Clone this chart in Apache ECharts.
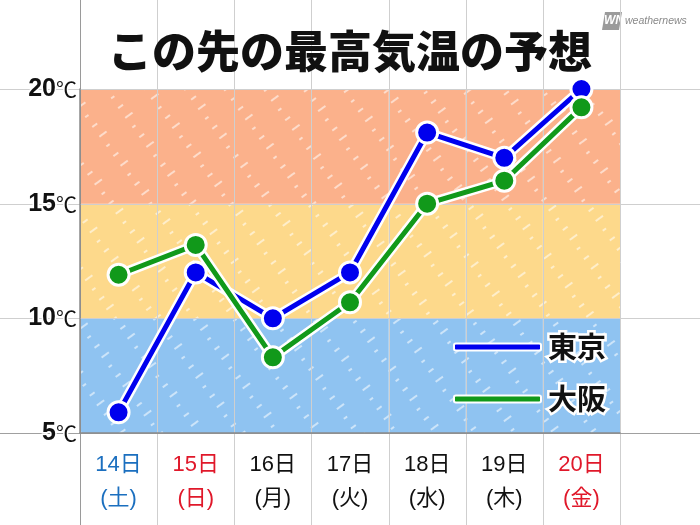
<!DOCTYPE html>
<html>
<head>
<meta charset="utf-8">
<script src="https://cdn.jsdelivr.net/npm/echarts@6/dist/echarts.min.js"></script>
<style>html,body{margin:0;padding:0;background:#fff;}#c{width:700px;height:525px;}</style>
</head>
<body>
<div id="c"></div>
<script>
const categories = ['14日','15日','16日','17日','18日','19日','20日'];
const weekdays = ['(土)','(日)','(月)','(火)','(水)','(木)','(金)'];
const tokyo = [5.9, 12, 10, 12, 18.1, 17, 20];
const osaka = [11.9, 13.2, 8.3, 10.7, 15, 16, 19.2];
const yTicks = [5, 10, 15, 20];
const bands = [[5, 10], [10, 15], [15, 20]];
const seriesNames = ['東京', '大阪'];

const bandColors = ['#8fc3f1', '#fdd98b', '#fbb18b'];
const lineColors = ['#0000ee', '#11991a'];
const dayColorKey = ['b', 'r', 'k', 'k', 'k', 'k', 'r'];
const JP = '"Noto Sans CJK JP", "Liberation Sans", sans-serif';
const NUM = '"Liberation Sans", "Noto Sans CJK JP", sans-serif';

const chart = echarts.init(document.getElementById('c'), null, {renderer: 'canvas'});

function lineSeries(name, data, color, z) {
  return [{
    name: name + '_outline', type: 'line', data: data, z: z, silent: true,
    symbol: 'none', lineStyle: {color: '#fff', width: 10}
  }, {
    name: name, type: 'line', data: data, z: z + 1,
    symbol: 'circle', symbolSize: 21,
    itemStyle: {color: color, borderColor: '#fff', borderWidth: 3},
    lineStyle: {color: color, width: 5}
  }];
}

const decal = {
  symbol: 'rect', symbolSize: 1, color: 'rgba(255,255,255,0.55)',
  dashArrayX: [[9, 23], [4, 28], [6, 26]], dashArrayY: [2, 10], rotation: -Math.PI / 5
};

const bandSeries = [{
  name: 'base', type: 'bar', stack: 'bands', z: 1, silent: true, barWidth: '100%',
  data: categories.map(() => bands[0][0]), itemStyle: {color: 'transparent'}
}].concat(bands.map((b, i) => ({
  name: 'band' + i, type: 'bar', stack: 'bands', z: 1, silent: true, barWidth: '100%',
  data: categories.map(() => b[1] - b[0]),
  itemStyle: {color: bandColors[i], decal: decal}
})));

const option = {
  backgroundColor: '#fff',
  animation: false,
  title: {
    text: 'この先の最高気温の予想', left: 'center', top: 20,
    textStyle: {fontFamily: JP, fontWeight: 900, fontSize: 44, color: '#111', lineHeight: 52}
  },
  grid: {left: 80, right: 80, top: 89, bottom: 92},
  legend: {
    data: seriesNames, orient: 'vertical', left: 448, top: 325,
    icon: 'roundRect', itemWidth: 87, itemHeight: 7, itemGap: 18,
    itemStyle: {borderColor: '#fff', borderWidth: 2},
    textStyle: {fontFamily: JP, fontWeight: 'bold', fontSize: 29, lineHeight: 31, color: '#111',
      textBorderColor: '#fff', textBorderWidth: 5, padding: [0, 0, 0, 2]}
  },
  xAxis: {
    type: 'category', data: categories, boundaryGap: true, z: 3,
    axisLine: {show: true, lineStyle: {color: '#8a8a8a', width: 1.5}},
    axisTick: {show: false}, splitLine: {show: false},
    axisLabel: {
      margin: 15, interval: 0,
      formatter: (v, i) => '{' + dayColorKey[i] + '|' + v + '}\n{' + dayColorKey[i] + '|' + weekdays[i] + '}',
      rich: {
        b: {color: '#1b6fbf', fontSize: 22, lineHeight: 34, fontFamily: NUM},
        r: {color: '#e0182a', fontSize: 22, lineHeight: 34, fontFamily: NUM},
        k: {color: '#111', fontSize: 22, lineHeight: 34, fontFamily: NUM}
      }
    }
  },
  yAxis: {
    type: 'value', min: yTicks[0], max: yTicks[yTicks.length - 1], interval: 5, z: 3,
    axisLine: {show: true, lineStyle: {color: '#8a8a8a', width: 1.5}},
    axisTick: {show: false}, splitLine: {show: false},
    axisLabel: {
      margin: 3,
      formatter: v => '{n|' + v + '}{u|℃}',
      rich: {
        n: {fontFamily: NUM, fontWeight: 'bold', fontSize: 25, color: '#111', textBorderColor: '#fff', textBorderWidth: 3},
        u: {fontFamily: JP, fontSize: 21, color: '#111', textBorderColor: '#fff', textBorderWidth: 3}
      }
    }
  },
  series: bandSeries
    .concat(lineSeries(seriesNames[0], tokyo, lineColors[0], 4))
    .concat(lineSeries(seriesNames[1], osaka, lineColors[1], 6))
};
chart.setOption(option);

// decorative paper grid lines derived from the axes' scales
const W = chart.getWidth(), H = chart.getHeight();
const c0 = chart.convertToPixel({xAxisIndex: 0}, 0);
const c1 = chart.convertToPixel({xAxisIndex: 0}, 1);
const step = c1 - c0;
const elems = [];
for (let i = 0; i <= categories.length; i++) {
  const x = Math.round(c0 - step / 2 + i * step) + 0.5;
  elems.push({type: 'line', z: 2, silent: true, shape: {x1: x, y1: 0, x2: x, y2: H},
    style: {stroke: i === 0 ? '#9a9a9a' : '#cfcfcf', lineWidth: 1}});
}
yTicks.forEach(t => {
  const y = Math.round(chart.convertToPixel({yAxisIndex: 0}, t)) + 0.5;
  elems.push({type: 'line', z: 2, silent: true, shape: {x1: 0, y1: y, x2: W, y2: y},
    style: {stroke: t === yTicks[0] ? '#a0a0a0' : '#cfcfcf', lineWidth: 1}});
});
// logo
elems.push({
  type: 'group', left: 602, top: 12, z: 10, children: [
    {type: 'polygon', shape: {points: [[3, 0], [20, 0], [17, 18], [0, 18]]}, style: {fill: '#9b9b9b'}},
    {type: 'text', x: 2, y: 3, style: {text: 'WN', fill: '#fff', font: 'italic bold 12px "Liberation Sans"'}},
    {type: 'text', x: 23, y: 4, style: {text: 'weathernews', fill: '#8a8a8a', font: 'italic 10.5px "Liberation Sans"'}}
  ]
});
chart.setOption({graphic: {elements: elems}});
</script>
</body>
</html>
